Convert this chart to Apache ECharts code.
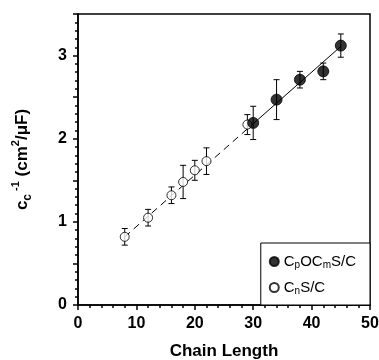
<!DOCTYPE html>
<html>
<head>
<meta charset="utf-8">
<script src="https://cdn.jsdelivr.net/npm/echarts@6/dist/echarts.min.js"></script>
<style>
  html, body { margin: 0; padding: 0; background: #fff; }
  #chart { width: 379px; height: 360px; }
</style>
</head>
<body>
<div id="chart"></div>
<script>
// C_nS/C (open circles)
const lenOpen = [8, 12, 16, 18, 20, 22, 29]
const capOpen = [0.82, 1.05, 1.32, 1.48, 1.62, 1.73, 2.17]
const errOpen = [0.1, 0.1, 0.1, 0.2, 0.12, 0.16, 0.12]

// C_pOC_mS/C (filled circles)
const lenFilled = [30, 34, 38, 42, 45]
const capFilled = [2.19, 2.47, 2.71, 2.81, 3.12]
const errFilled = [0.2, 0.24, 0.1, 0.1, 0.14]

// linear fits
const dashFit = [[8, 0.82], [30, 2.18]]
const solidFit = [[30, 2.18], [45, 3.11]]

const xTicks = [0, 10, 20, 30, 40, 50]
const yTicks = [0, 1, 2, 3]

const font = '"Liberation Sans", Arial, sans-serif'

const chart = echarts.init(document.getElementById('chart'))

const errBars = (xs, ys, es) => xs.map((x, i) => [x, ys[i], es[i]])

const renderErr = (params, api) => {
  const x = api.value(0), y = api.value(1), e = api.value(2)
  const top = api.coord([x, y + e])
  const bot = api.coord([x, y - e])
  const w = 3
  const st = { stroke: '#000', lineWidth: 1 }
  return {
    type: 'group',
    children: [
      { type: 'line', shape: { x1: top[0], y1: top[1], x2: bot[0], y2: bot[1] }, style: st },
      { type: 'line', shape: { x1: top[0] - w, y1: top[1], x2: top[0] + w, y2: top[1] }, style: st },
      { type: 'line', shape: { x1: bot[0] - w, y1: bot[1], x2: bot[0] + w, y2: bot[1] }, style: st }
    ]
  }
}

const legendRich = {
  a: { fontFamily: font, fontSize: 15, color: '#000' },
  s: { fontFamily: font, fontSize: 10, color: '#000', verticalAlign: 'bottom', padding: [7, 0, 0, 0] }
}

const options = {
  animation: false,
  backgroundColor: '#fff',
  grid: {
    left: 78, right: 9, top: 14, bottom: 55,
    outerBoundsMode: 'none',
    show: true, borderColor: '#000', borderWidth: 1.5
  },
  legend: {
    right: 9, bottom: 55,
    orient: 'vertical',
    backgroundColor: '#fff',
    borderColor: '#000', borderWidth: 1,
    padding: [11, 14, 9, 8],
    itemGap: 10,
    itemWidth: 9, itemHeight: 9,
    data: ['filled', 'open'],
    formatter: (name) => name === 'filled'
      ? '{a|C}{s|p}{a|OC}{s|m}{a|S/C}'
      : '{a|C}{s|n}{a|S/C}',
    textStyle: { rich: legendRich }
  },
  xAxis: {
    type: 'value',
    min: 0, max: 50, interval: 10,
    name: 'Chain Length',
    nameLocation: 'middle',
    nameGap: 38,
    nameTextStyle: { fontFamily: font, fontWeight: 'bold', fontSize: 17, color: '#000' },
    axisLine: { show: true, lineStyle: { color: '#000', width: 1.5 } },
    axisTick: { show: true, length: 5, lineStyle: { color: '#000', width: 1.5 } },
    minorTick: { show: true, splitNumber: 5, length: 3, lineStyle: { color: '#000', width: 1.5 } },
    splitLine: { show: false },
    axisLabel: {
      fontFamily: font, fontWeight: 'bold', fontSize: 16, color: '#000', margin: 11,
      formatter: (v) => xTicks.includes(v) ? String(v) : ''
    }
  },
  yAxis: {
    type: 'value',
    min: 0, max: 3.5, interval: 0.5,
    name: '{a|c}{b|c}{c| -1}{a| (cm}{c|2}{a|/\u03bcF)}',
    nameLocation: 'middle',
    nameGap: 44,
    nameRotate: 90,
    nameTextStyle: {
      rich: {
        a: { fontFamily: font, fontWeight: 'bold', fontSize: 17, color: '#000', lineHeight: 24 },
        b: { fontFamily: font, fontWeight: 'bold', fontSize: 12, color: '#000', verticalAlign: 'bottom', lineHeight: 24 },
        c: { fontFamily: font, fontWeight: 'bold', fontSize: 11, color: '#000', verticalAlign: 'top', lineHeight: 24 }
      }
    },
    axisLine: { show: true, lineStyle: { color: '#000', width: 1.5 } },
    axisTick: { show: true, length: 5, lineStyle: { color: '#000', width: 1.5 } },
    minorTick: { show: true, splitNumber: 5, length: 3, lineStyle: { color: '#000', width: 1.5 } },
    splitLine: { show: false },
    axisLabel: {
      fontFamily: font, fontWeight: 'bold', fontSize: 16, color: '#000', margin: 11,
      formatter: (v) => yTicks.includes(v) ? String(v) : ''
    }
  },
  series: [
    {
      name: 'dashfit', type: 'line', data: dashFit, symbol: 'none', z: 1,
      lineStyle: { color: '#000', width: 1, type: [7, 5] }
    },
    {
      name: 'solidfit', type: 'line', data: solidFit, symbol: 'none', z: 1,
      lineStyle: { color: '#000', width: 1 }
    },
    {
      name: 'errOpen', type: 'custom', renderItem: renderErr, z: 2,
      data: errBars(lenOpen, capOpen, errOpen)
    },
    {
      name: 'errFilled', type: 'custom', renderItem: renderErr, z: 2,
      data: errBars(lenFilled, capFilled, errFilled)
    },
    {
      name: 'open', type: 'scatter', z: 3, symbol: 'circle', symbolSize: 9,
      itemStyle: { color: '#fff', borderColor: '#000', borderWidth: 1 },
      data: lenOpen.map((x, i) => [x, capOpen[i]])
    },
    {
      name: 'filled', type: 'scatter', z: 4, symbol: 'circle', symbolSize: 11,
      itemStyle: { color: '#000', borderColor: '#000', borderWidth: 1 },
      data: lenFilled.map((x, i) => [x, capFilled[i]])
    }
  ]
}

chart.setOption(options)
</script>
</body>
</html>
